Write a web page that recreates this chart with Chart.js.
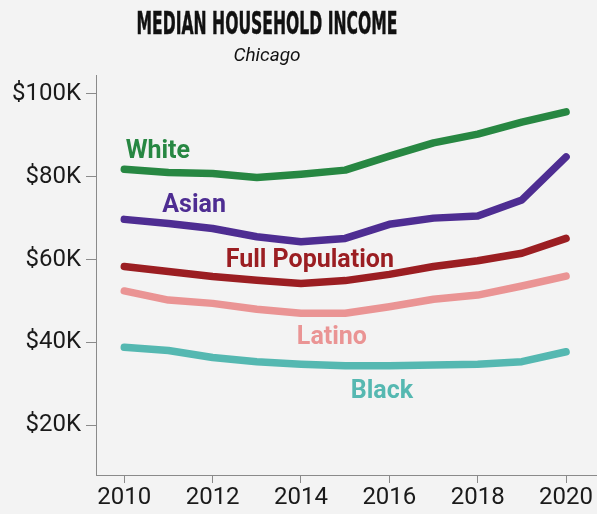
<!DOCTYPE html>
<html>
<head>
<meta charset="utf-8">
<script src="https://cdn.jsdelivr.net/npm/chart.js@4"></script>
<style>
html,body{margin:0;padding:0;background:#f3f3f3;}
#wrap{width:597px;height:514px;position:relative;}
</style>
</head>
<body>
<div id="wrap"><canvas id="c" width="597" height="514"></canvas></div>
<script>
// ---- data ----
const years = [2010, 2011, 2012, 2013, 2014, 2015, 2016, 2017, 2018, 2019, 2020];
const white      = [81800, 81000, 80800, 79800, 80600, 81600, 85000, 88200, 90300, 93200, 95700];
const asian      = [69700, 68700, 67500, 65500, 64300, 65100, 68500, 70000, 70500, 74400, 84800];
const fullPop    = [58300, 57100, 55900, 55000, 54200, 54900, 56400, 58300, 59700, 61500, 65100];
const latino     = [52400, 50200, 49400, 48000, 47000, 47000, 48600, 50400, 51400, 53600, 56000];
const black      = [38800, 38000, 36300, 35300, 34700, 34300, 34300, 34500, 34700, 35300, 37700];
const seriesNames = ["White", "Asian", "Full Population", "Latino", "Black"];
const yTickValues = [20000, 40000, 60000, 80000, 100000];
const xTickValues = [2010, 2012, 2014, 2016, 2018, 2020];
// label anchor points (in data units: year, income at text baseline)
const labelYears  = [2010.76, 2011.58, 2014.2, 2014.70, 2015.83];
const labelValues = [84600, 71400, 58260, 39500, 26450];
const title = "MEDIAN HOUSEHOLD INCOME";
const subtitle = "Chicago";

const colors = ["#278742", "#4e2d92", "#9b1e22", "#ea9494", "#55b8b1"];
const allSeries = [white, asian, fullPop, latino, black];

const datasets = allSeries.map((vals, i) => ({
  label: seriesNames[i],
  data: years.map((y, j) => ({x: y, y: vals[j]})),
  borderColor: colors[i],
  backgroundColor: colors[i],
  borderWidth: 7.5,
  pointRadius: 0,
  tension: 0,
  borderCapStyle: 'round',
  borderJoinStyle: 'round',
  fill: false
}));

const bgPlugin = {
  id: 'bg',
  beforeDraw(chart) {
    const ctx = chart.ctx;
    ctx.save();
    ctx.fillStyle = '#f3f3f3';
    ctx.fillRect(0, 0, chart.width, chart.height);
    ctx.restore();
  }
};

const titlePlugin = {
  id: 'titles',
  afterDraw(chart) {
    const ctx = chart.ctx;
    ctx.save();
    const cx = 267;
    ctx.fillStyle = '#111';
    ctx.strokeStyle = '#111';
    ctx.lineWidth = 0.5;
    ctx.font = "bold 32px 'Liberation Sans Narrow', 'DejaVu Sans Condensed', sans-serif";
    const w = ctx.measureText(title).width;
    const target = 261;
    ctx.translate(cx, 34);
    ctx.scale(target / w, 1);
    ctx.textAlign = 'center';
    ctx.textBaseline = 'alphabetic';
    ctx.fillText(title, 0, 0);
    ctx.strokeText(title, 0, 0);
    ctx.restore();
    ctx.save();
    ctx.fillStyle = '#111';
    ctx.font = "italic 19px Roboto, sans-serif";
    ctx.textAlign = 'center';
    ctx.textBaseline = 'alphabetic';
    ctx.fillText(subtitle, cx, 61);
    ctx.restore();
  }
};

const labelPlugin = {
  id: 'seriesLabels',
  afterDatasetsDraw(chart) {
    const ctx = chart.ctx;
    const xs = chart.scales.x, ys = chart.scales.y;
    ctx.save();
    ctx.font = "bold 25px Roboto, sans-serif";
    ctx.textAlign = 'center';
    ctx.textBaseline = 'alphabetic';
    seriesNames.forEach((n, i) => {
      ctx.fillStyle = colors[i];
      ctx.fillText(n, xs.getPixelForValue(labelYears[i]), ys.getPixelForValue(labelValues[i]));
    });
    ctx.restore();
  }
};

new Chart(document.getElementById('c'), {
  type: 'line',
  data: { datasets },
  options: {
    responsive: false,
    animation: false,
    devicePixelRatio: 1,
    layout: { padding: { top: 75, left: 0, right: 0, bottom: 0 } },
    plugins: { legend: { display: false }, tooltip: { enabled: false }, title: { display: false } },
    scales: {
      x: {
        type: 'linear',
        min: 2009.36,
        max: 2020.70,
        afterBuildTicks(scale) { scale.ticks = xTickValues.map(v => ({value: v})); },
        afterFit(scale) { scale.height = 39; },
        ticks: {
          font: { family: 'Roboto', size: 24 },
          color: '#1a1a1a',
          padding: 1,
          maxRotation: 0,
          autoSkip: false,
          callback: v => String(v)
        },
        grid: { drawOnChartArea: false, drawTicks: true, tickLength: 8, color: '#8a8a8a', lineWidth: 1 },
        border: { display: true, color: '#8a8a8a', width: 1 }
      },
      y: {
        type: 'linear',
        min: 7920,
        max: 104590,
        afterBuildTicks(scale) { scale.ticks = yTickValues.map(v => ({value: v})); },
        afterFit(scale) { scale.width = 96; },
        ticks: {
          font: { family: 'Roboto', size: 24 },
          color: '#1a1a1a',
          padding: 5,
          autoSkip: false,
          callback: v => '$' + (v / 1000) + 'K'
        },
        grid: { drawOnChartArea: false, drawTicks: true, tickLength: 10, color: '#8a8a8a', lineWidth: 1 },
        border: { display: true, color: '#8a8a8a', width: 1 }
      }
    }
  },
  plugins: [bgPlugin, titlePlugin, labelPlugin]
});
</script>
</body>
</html>
